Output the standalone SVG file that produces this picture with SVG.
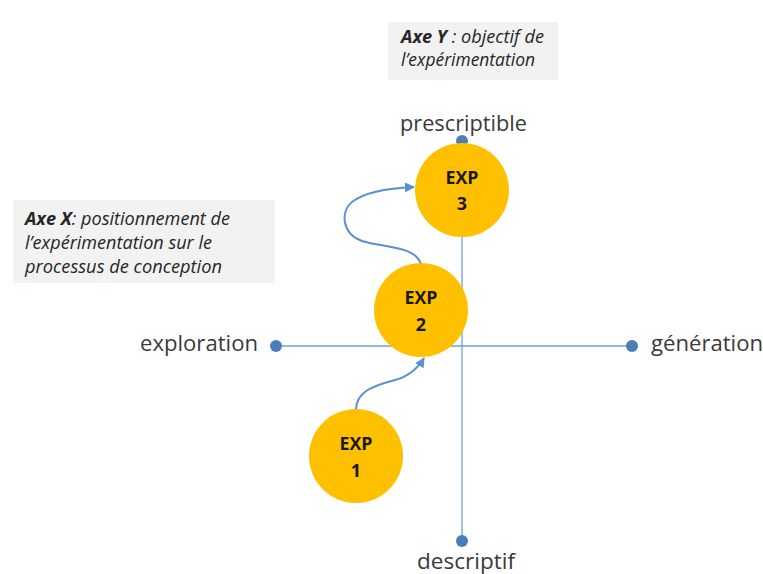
<svg xmlns="http://www.w3.org/2000/svg" width="763" height="574" viewBox="0 0 763 574">
<defs>
<style>
.axis{stroke:#6f9fd8;stroke-width:1.3;fill:none}
.dot{fill:#4a7ebb}
.conn{stroke:#5b8fcf;stroke-width:2;fill:none}
.node{fill:#ffc000}
.nt{font-family:"Open Sans","Liberation Sans",sans-serif;font-weight:bold;font-size:18px;fill:#1a1a1a;text-anchor:middle}
.lab{font-family:"Open Sans","Liberation Sans",sans-serif;font-size:22px;fill:#3a3a3a}
.box{fill:#f2f2f2}
.bt{font-family:"Open Sans","Liberation Sans",sans-serif;font-style:italic;font-size:18px;fill:#262626}
</style>
<marker id="ah" viewBox="0 0 10 10" refX="9" refY="5" markerWidth="5" markerHeight="5" orient="auto" markerUnits="strokeWidth">
<path d="M0,0 L10,5 L0,10 z" fill="#5b8fcf"/>
</marker>
</defs>
<rect width="763" height="574" fill="#ffffff"/>
<g id="axes">
<line class="axis" x1="276" y1="346" x2="632" y2="346"/>
<line class="axis" x1="462" y1="140" x2="462" y2="541"/>
<circle class="dot" cx="276" cy="346" r="6"/>
<circle class="dot" cx="632" cy="346" r="6"/>
<circle class="dot" cx="462" cy="141" r="6"/>
<circle class="dot" cx="462" cy="541" r="6"/>
</g>
<g id="labels">
<text class="lab" x="400" y="131" textLength="127" lengthAdjust="spacingAndGlyphs">prescriptible</text>
<text class="lab" x="140" y="351" textLength="118" lengthAdjust="spacingAndGlyphs">exploration</text>
<text class="lab" x="651" y="351" textLength="112" lengthAdjust="spacingAndGlyphs">génération</text>
<text class="lab" x="417" y="569" textLength="98" lengthAdjust="spacingAndGlyphs">descriptif</text>
</g>
<g id="boxY">
<rect class="box" x="388" y="22" width="170" height="58"/>
<text class="bt" x="401" y="43" textLength="143" lengthAdjust="spacingAndGlyphs"><tspan font-weight="bold">Axe Y</tspan> : objectif de</text>
<text class="bt" x="401" y="66" textLength="134" lengthAdjust="spacingAndGlyphs">l’expérimentation</text>
</g>
<g id="boxX">
<rect class="box" x="13" y="200" width="262" height="83"/>
<text class="bt" x="25" y="225" textLength="205" lengthAdjust="spacingAndGlyphs"><tspan font-weight="bold">Axe X</tspan>: positionnement de</text>
<text class="bt" x="25" y="249" textLength="187" lengthAdjust="spacingAndGlyphs">l’expérimentation sur le</text>
<text class="bt" x="25" y="273" textLength="197" lengthAdjust="spacingAndGlyphs">processus de conception</text>
</g>
<g id="connectors">
<path class="conn" marker-end="url(#ah)" d="M356,410 C356,392 372,386 395,380 C410,376 418,368 424,358"/>
<path class="conn" marker-end="url(#ah)" d="M421,265 C417,246 385,248 362,241 C342,234 340,212 352,202 C366,191 390,188 414,187"/>
</g>
<g id="exp3">
<circle class="node" cx="462" cy="190" r="47"/>
<text class="nt" x="462" y="184" textLength="33" lengthAdjust="spacingAndGlyphs">EXP</text>
<text class="nt" x="462" y="210">3</text>
</g>
<g id="exp2">
<circle class="node" cx="421" cy="310" r="47"/>
<text class="nt" x="421" y="304" textLength="33" lengthAdjust="spacingAndGlyphs">EXP</text>
<text class="nt" x="421" y="331">2</text>
</g>
<g id="exp1">
<circle class="node" cx="356" cy="456" r="47"/>
<text class="nt" x="356" y="450" textLength="33" lengthAdjust="spacingAndGlyphs">EXP</text>
<text class="nt" x="356" y="477">1</text>
</g>
</svg>
